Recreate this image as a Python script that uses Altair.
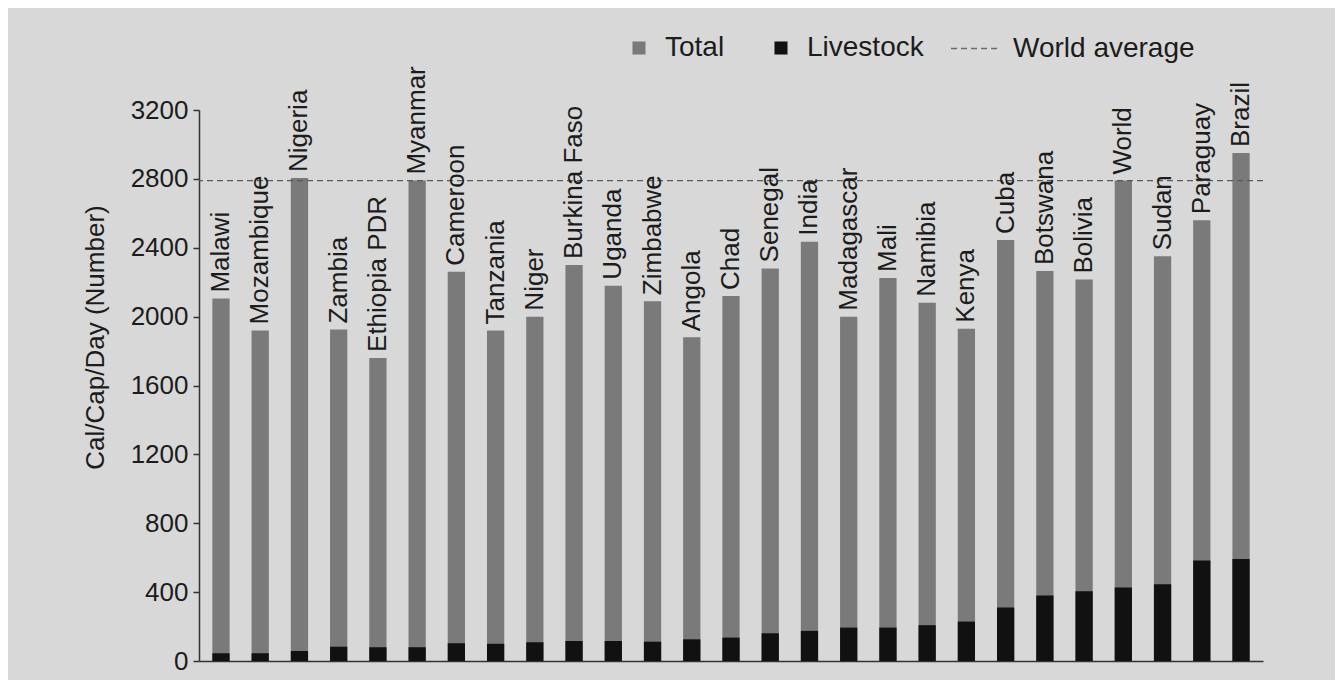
import altair as alt
import pandas as pd

countries = ["Malawi", "Mozambique", "Nigeria", "Zambia", "Ethiopia PDR", "Myanmar",
             "Cameroon", "Tanzania", "Niger", "Burkina Faso", "Uganda", "Zimbabwe",
             "Angola", "Chad", "Senegal", "India", "Madagascar", "Mali", "Namibia",
             "Kenya", "Cuba", "Botswana", "Bolivia", "World", "Sudan", "Paraguay", "Brazil"]
total = [2105, 1920, 2805, 1925, 1760, 2790, 2260, 1920, 2000, 2300, 2180, 2090,
         1880, 2120, 2280, 2435, 2000, 2225, 2080, 1930, 2445, 2265, 2215, 2790,
         2350, 2560, 2950]
livestock = [45, 45, 58, 83, 80, 80, 103, 100, 109, 116, 116, 112, 126, 136, 161,
             175, 194, 194, 208, 229, 311, 380, 405, 427, 446, 583, 592]
series_names = ["Total", "Livestock"]
world_average = 2790
y_ticks = [0, 400, 800, 1200, 1600, 2000, 2400, 2800, 3200]

FONT = "Liberation Sans"
TXT = "#1c1c1c"

df = pd.DataFrame({
    "country": countries * 2,
    "series": ["Total"] * len(countries) + ["Livestock"] * len(countries),
    "value": total + livestock,
})
labels_df = pd.DataFrame({"country": countries, "value": total})
avg_df = pd.DataFrame({"label": ["World average"], "value": [world_average]})

x_enc = alt.X("country:N", sort=countries,
              scale=alt.Scale(paddingInner=0.56, paddingOuter=0.34),
              axis=alt.Axis(title=None, labels=False, ticks=False, domain=True,
                            domainColor="#333333", domainWidth=1.5, grid=False))
y_enc = alt.Y("value:Q", scale=alt.Scale(domain=[0, 3200], nice=False),
              axis=alt.Axis(values=y_ticks, format="d", title="Cal/Cap/Day (Number)",
                            grid=False,
                            labelFont=FONT, labelFontSize=26, labelColor=TXT,
                            labelPadding=5, tickSize=6, tickColor="#333333",
                            tickWidth=1.5, domainColor="#333333", domainWidth=1.5,
                            titleFont=FONT, titleFontSize=26, titleFontWeight="normal",
                            titleColor=TXT, titleAngle=270, titleX=-104, titleY=227,
                            titleAlign="center", titleBaseline="middle"))

color_enc = alt.Color("series:N",
                      scale=alt.Scale(domain=series_names, range=["#7a7a7a", "#111111"]),
                      legend=alt.Legend(title=None, orient="none", legendX=426, legendY=-76,
                                        direction="horizontal", symbolType="square",
                                        symbolSize=170, symbolStrokeWidth=0,
                                        labelFont=FONT, labelFontSize=28, labelColor=TXT,
                                        labelOffset=12, columnPadding=42, labelLimit=400))

bars_total = alt.Chart(df).transform_filter(alt.datum.series == "Total").mark_bar().encode(
    x=x_enc, y=y_enc, color=color_enc)
bars_live = alt.Chart(df).transform_filter(alt.datum.series == "Livestock").mark_bar().encode(
    x=x_enc, y=y_enc, color=color_enc)

rule = alt.Chart(avg_df).mark_rule(stroke="#5a5a5a", strokeWidth=1.3).encode(
    y=y_enc,
    strokeDash=alt.StrokeDash("label:N",
                              scale=alt.Scale(domain=["World average"], range=[[6, 4]]),
                              legend=alt.Legend(title=None, orient="none", legendX=751,
                                                legendY=-86, symbolType="stroke",
                                                symbolSize=2200, symbolStrokeColor="#6a6a6a",
                                                symbolDash=[4, 3], symbolStrokeWidth=1.3,
                                                labelFont=FONT, labelFontSize=28,
                                                labelColor=TXT, labelOffset=14,
                                                labelLimit=400)))

labels = alt.Chart(labels_df).mark_text(angle=270, align="left", baseline="middle", dx=6,
                                        font=FONT, fontSize=26, color=TXT).encode(
    x=x_enc, y=y_enc, text="country:N")

chart = alt.layer(bars_total, bars_live, rule, labels).properties(
    width=1064, height=551,
    padding={"left": 191, "top": 102, "right": 72, "bottom": 19},
    autosize=alt.AutoSizeParams(type="none"),
).configure(background="#d8d8d8").configure_view(stroke=None)

chart.save("out.html", embed_options={"renderer": "svg", "actions": False})
